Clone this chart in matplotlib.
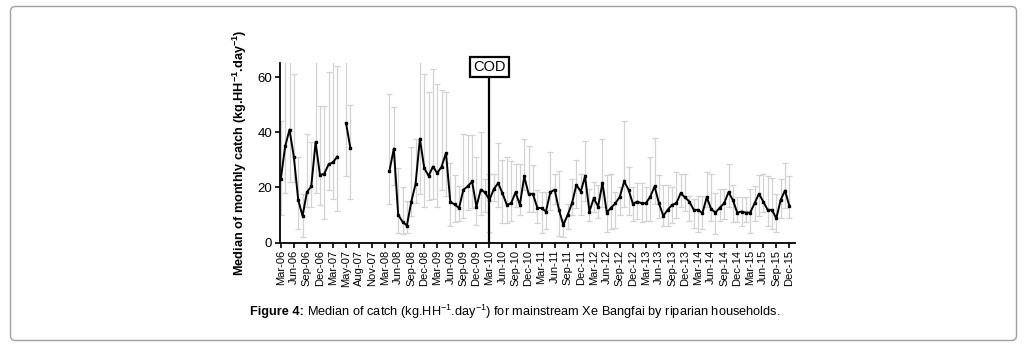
import numpy as np
import matplotlib
matplotlib.use('Agg')
import matplotlib.pyplot as plt
from matplotlib.patches import FancyBboxPatch

plt.rcParams['font.family'] = ['Liberation Sans', 'DejaVu Sans']
plt.rcParams['mathtext.fontset'] = 'custom'
plt.rcParams['mathtext.rm'] = 'Liberation Sans'
plt.rcParams['mathtext.bf'] = 'Liberation Sans:bold'

nan = np.nan

# median catch per month (index 0 = Mar-06, 117 = Dec-15), nan = no survey
median = [23.2, 34.9, 41.0, 31.0, 15.5, 9.7, 18.3, 20.4, 36.4, 24.5, 25.0, 28.4, 29.1, 31.2, nan, 43.4, 34.3,
          nan, nan, nan, nan, nan, nan, nan, nan,
          26.1, 34.1, 10.1, 7.6, 6.2, 14.7, 21.3, 37.7, 27.0, 24.2, 27.6, 25.2, 27.6, 32.5, 14.7, 13.9, 12.5,
          19.2, 20.4, 22.2, 13.1, 19.2, 18.2,
          15.5, 19.4, 21.6, 17.9, 13.7, 14.3, 18.3, 13.7, 24.0, 17.7, 17.7, 12.7, 12.5, 11.3, 18.3, 19.2,
          11.9, 6.4, 10.1, 14.3, 21.0, 18.5, 24.0, 11.3, 16.1, 13.1, 21.6, 10.9, 12.7, 14.3, 16.7, 22.2,
          19.2, 14.1, 14.9, 14.3, 14.3, 16.7, 20.4, 14.3, 9.7, 11.9, 13.7, 14.3, 17.9, 16.4, 14.9, 11.9,
          11.9, 10.7, 16.5, 12.2, 10.9, 12.7, 14.3, 18.3, 15.5, 10.9, 11.3, 10.9, 10.9, 14.3, 17.7, 14.9,
          11.9, 11.9, 8.8, 15.5, 18.9, 13.3]

upper = [44, 66, 66, 61, 31, 17.5, 39.5, 36.5, 66, 49.5, 49.5, 62, 66, 64, nan, 66, 50,
         nan, nan, nan, nan, nan, nan, nan, nan,
         54, 49, 27, 20, 15, 34.5, 37.5, 66, 61, 54.5, 63, 57.5, 55.5, 54.5, 29, 24.5, 20.5,
         39.5, 39, 39, 31, 40, 23,
         25, 25, 36, 30, 31, 29.5, 28.5, 28.5, 37.5, 35, 28, 19, 18.5, 18.5, 33, 25,
         26, 8.5, 14, 23, 30, 25, 37, 19.5, 22, 21, 37.5, 24.5, 25, 18.5, 20, 44,
         27.5, 20, 21.5, 21.5, 20, 31, 38, 24.5, 21, 21, 20, 25.5, 25, 25, 17, 16,
         17, 17, 25.5, 25, 18, 19.5, 19.5, 28.5, 21, 16.5, 16.5, 16.5, 19.5, 20.5, 24.5, 25,
         24, 23.5, 17.5, 23, 29, 24]

lower = [10, 18, 22, 22, 5, 2, 13, 13, 18, 13.5, 8.5, 19, 16, 11.5, nan, 24, 16,
         nan, nan, nan, nan, nan, nan, nan, nan,
         14, 21, 3.5, 3, 3.5, 9.5, 14.5, 17.5, 13, 15.5, 16, 13, 19, 17, 6, 7.5, 8,
         9, 12, 12.5, 6.5, 10, 11,
         4, 15, 13, 7, 7, 8, 13, 10, 19, 11, 11, 7, 3.5, 5, 12, 14,
         2.5, 2, 5, 10, 12.5, 10, 15, 8, 11, 9, 13, 4, 5, 5.5, 10, 13,
         10, 8, 8.5, 7.5, 8, 8, 14, 9, 6, 6, 7, 9, 13, 11.5, 8, 5.5,
         4, 5, 13, 8, 3, 8, 8.5, 13, 7.5, 7.5, 6, 7.5, 3.5, 8, 9.5, 11,
         6, 5, 4, 9, 12.5, 9]

tick_labels = ['Mar-06', 'Jun-06', 'Sep-06', 'Dec-06', 'Mar-07', 'May-07', 'Aug-07', 'Nov-07',
               'Mar-08', 'Jun-08', 'Sep-08', 'Dec-08', 'Mar-09', 'Jun-09', 'Sep-09', 'Dec-09',
               'Mar-10', 'Jun-10', 'Sep-10', 'Dec-10', 'Mar-11', 'Jun-11', 'Sep-11', 'Dec-11',
               'Mar-12', 'Jun-12', 'Sep-12', 'Dec-12', 'Mar-13', 'Jun-13', 'Sep-13', 'Dec-13',
               'Mar-14', 'Jun-14', 'Sep-14', 'Dec-14', 'Mar-15', 'Jun-15', 'Sep-15', 'Dec-15']
cod_month = 48  # Mar-10

median = np.array(median)
upper = np.array(upper)
lower = np.array(lower)
x = np.arange(len(median))

fig = plt.figure(figsize=(10.27, 3.49), dpi=100)
ax = fig.add_axes([0.2726, 0.3046, 0.5015, 0.514])

# grey whiskers
ax.errorbar(x, median, yerr=[median - lower, upper - median], fmt='none',
            ecolor='#d2d2d2', elinewidth=0.9, capsize=2.2, capthick=0.9, zorder=1)
ax.plot(x, median, color='black', lw=1.4, marker='s', ms=2, zorder=3)

# COD marker
ax.plot([cod_month, cod_month], [0, 60], color='black', lw=1.6, zorder=4, clip_on=False)
ax.text(cod_month, 63.6, 'COD', ha='center', va='center', fontsize=10.5, zorder=5,
        bbox=dict(boxstyle='square,pad=0.2', fc='white', ec='black', lw=1.6), clip_on=False)

ax.set_xlim(-0.2, 118.3)
ax.set_ylim(0, 65)
ax.set_yticks([0, 20, 40, 60])
ax.set_xticks(x[::3])
ax.set_xticklabels(tick_labels, rotation=90, fontsize=8)
ax.tick_params(axis='y', labelsize=9.5, length=3.5, width=1.2, pad=2)
ax.tick_params(axis='x', length=3.5, width=1.2, pad=1.5)
for s in ['top', 'right']:
    ax.spines[s].set_visible(False)
for s in ['left', 'bottom']:
    ax.spines[s].set_linewidth(1.3)

ax.set_ylabel(r'Median of monthly catch (kg.HH$^{\mathbf{-1}}$.day$^{\mathbf{-1}}$)',
              fontsize=9.2, fontweight='bold')
ax.yaxis.set_label_coords(-0.06, 0.5)

# caption
t1 = fig.text(250 / 1027, 1 - 312 / 349, 'Figure 4:', fontsize=9.2, fontweight='bold', va='center')
fig.canvas.draw()
bb = t1.get_window_extent()
fig.text((bb.x1 + 3) / 1027, 1 - 312 / 349,
         r'Median of catch (kg.HH$^{-1}$.day$^{-1}$) for mainstream Xe Bangfai by riparian households.',
         fontsize=9.2, va='center')

# outer rounded frame
frame = FancyBboxPatch((0.105, 0.085), 10.06, 3.34, boxstyle='round,pad=0,rounding_size=0.05',
                       transform=fig.dpi_scale_trans, fc='none', ec='#a0a0a0', lw=1)
fig.patches.append(frame)

fig.savefig('out.png', dpi=100)
